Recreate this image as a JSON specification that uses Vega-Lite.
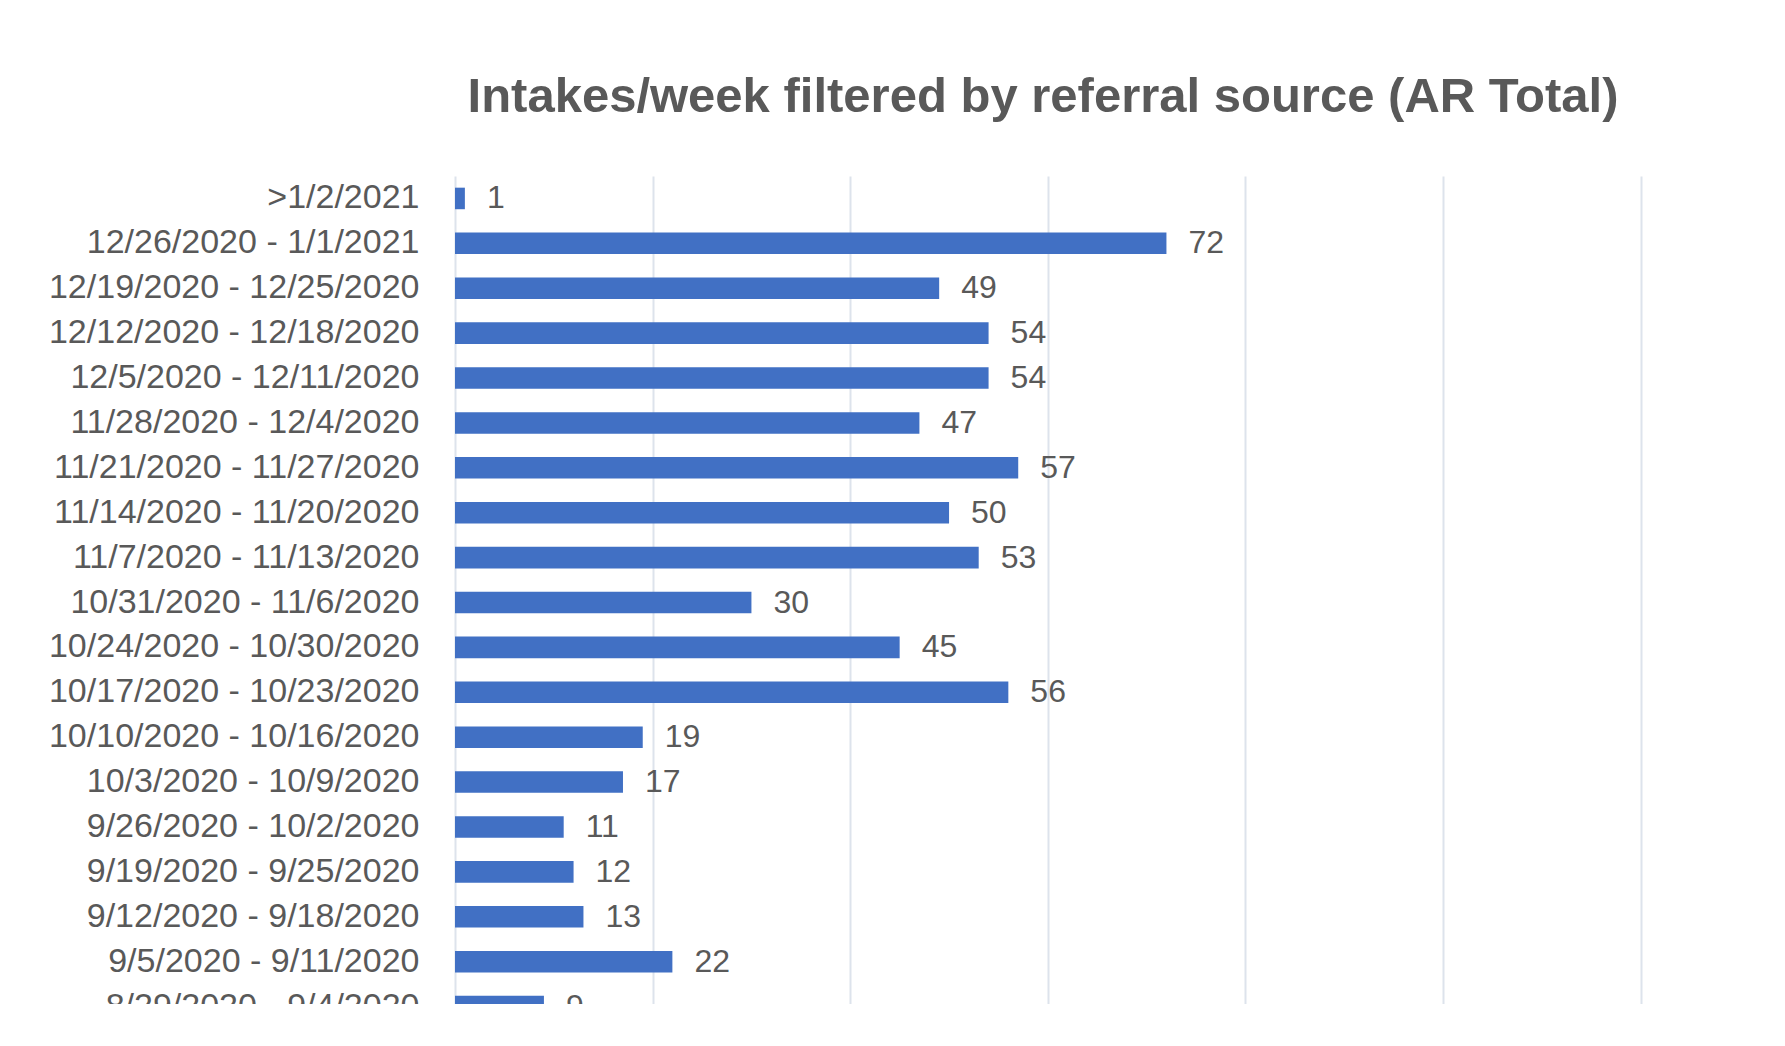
{
  "$schema": "https://vega.github.io/schema/vega-lite/v6.json",
  "autosize": {"type": "none"},
  "padding": {"left": 455, "top": 176, "right": 0, "bottom": 0},
  "width": 1330,
  "height": 828,
  "background": "white",
  "title": {
    "text": "Intakes/week filtered by referral source (AR Total)",
    "font": "Liberation Sans",
    "fontSize": 49,
    "fontWeight": "bold",
    "color": "#595959",
    "anchor": "middle",
    "frame": "group",
    "dx": -77,
    "baseline": "alphabetic",
    "offset": 15
  },
  "config": {
    "view": {"stroke": null},
    "font": "Liberation Sans"
  },
  "data": {
    "values": [
      {"week": ">1/2/2021", "intakes": 1},
      {"week": "12/26/2020 - 1/1/2021", "intakes": 72},
      {"week": "12/19/2020 - 12/25/2020", "intakes": 49},
      {"week": "12/12/2020 - 12/18/2020", "intakes": 54},
      {"week": "12/5/2020 - 12/11/2020", "intakes": 54},
      {"week": "11/28/2020 - 12/4/2020", "intakes": 47},
      {"week": "11/21/2020 - 11/27/2020", "intakes": 57},
      {"week": "11/14/2020 - 11/20/2020", "intakes": 50},
      {"week": "11/7/2020 - 11/13/2020", "intakes": 53},
      {"week": "10/31/2020 - 11/6/2020", "intakes": 30},
      {"week": "10/24/2020 - 10/30/2020", "intakes": 45},
      {"week": "10/17/2020 - 10/23/2020", "intakes": 56},
      {"week": "10/10/2020 - 10/16/2020", "intakes": 19},
      {"week": "10/3/2020 - 10/9/2020", "intakes": 17},
      {"week": "9/26/2020 - 10/2/2020", "intakes": 11},
      {"week": "9/19/2020 - 9/25/2020", "intakes": 12},
      {"week": "9/12/2020 - 9/18/2020", "intakes": 13},
      {"week": "9/5/2020 - 9/11/2020", "intakes": 22},
      {"week": "8/29/2020 - 9/4/2020", "intakes": 9}
    ]
  },
  "encoding": {
    "y": {
      "field": "week",
      "type": "nominal",
      "sort": null,
      "scale": {"range": [0, 853], "paddingInner": 0.52, "paddingOuter": 0.26},
      "axis": {
        "title": null,
        "domain": false,
        "ticks": false,
        "labelFontSize": 34,
        "labelColor": "#595959",
        "labelPadding": 36,
        "labelLimit": 600
      }
    },
    "x": {
      "field": "intakes",
      "type": "quantitative",
      "scale": {"domain": [0, 134.6], "nice": false},
      "axis": {
        "orient": "top",
        "title": null,
        "values": [0, 20, 40, 60, 80, 100, 120],
        "labels": false,
        "ticks": false,
        "domain": false,
        "grid": true,
        "gridColor": "#dde3ec",
        "gridWidth": 2
      }
    }
  },
  "layer": [
    {
      "mark": {"type": "bar", "color": "#4170C4", "clip": true}
    },
    {
      "mark": {
        "type": "text",
        "align": "left",
        "baseline": "middle",
        "dx": 22,
        "fontSize": 32,
        "color": "#595959",
        "clip": true
      },
      "encoding": {"text": {"field": "intakes", "type": "quantitative"}}
    }
  ]
}
